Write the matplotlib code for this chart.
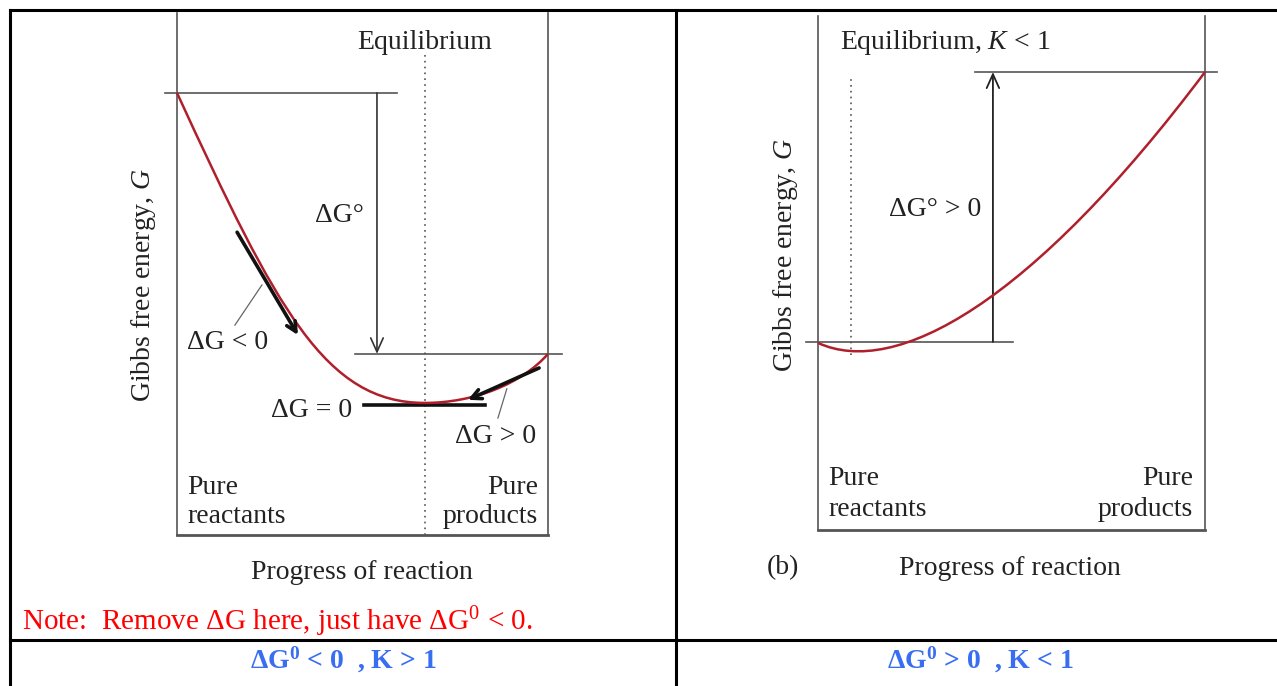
import matplotlib
matplotlib.use("Agg")
import matplotlib.pyplot as plt
from matplotlib.lines import Line2D
from matplotlib.path import Path
from matplotlib.patches import PathPatch

plt.rcParams['font.family'] = ['Liberation Serif', 'DejaVu Serif']
plt.rcParams['mathtext.fontset'] = 'custom'
plt.rcParams['mathtext.rm'] = 'Liberation Serif'
plt.rcParams['mathtext.it'] = 'Liberation Serif:italic'
plt.rcParams['mathtext.bf'] = 'Liberation Serif:bold'

# ---------------- data (progress 0..1, G in arbitrary units 0..100) -------------
# Panel (a): K > 1  -- curve as cubic Bezier control points (start, c1, c2, end, c1, c2, end)
a_curve_progress = [0.0, 0.27, 0.40, 0.668, 0.80, 0.93, 1.0]
a_curve_G = [84.7, 43.0, 25.3, 25.3, 25.3, 29.0, 34.7]
a_G_reactants = 84.7
a_G_products = 34.7
a_equilibrium = 0.668
a_dG0_x = 0.539
a_tangent_neg = [(0.162, 58.0), (0.326, 38.3)]   # tail, head
a_tangent_pos = [(0.976, 32.0), (0.784, 25.9)]   # tail, head
a_zero_line = [(0.504, 24.9), (0.830, 24.9)]
a_leader_neg = [(0.229, 47.9), (0.156, 40.2)]
a_leader_pos = [(0.889, 28.0), (0.865, 22.4)]

# Panel (b): K < 1  -- one cubic Bezier (start, c1, c2, end)
b_curve_progress = [0.0, 0.20, 0.55, 1.0]
b_curve_G = [36.4, 29.5, 44.0, 89.1]
b_G_reactants = 36.6
b_G_products = 89.1
b_equilibrium = 0.085
b_dG0_x = 0.452

# Text
ylabel_text = "Gibbs free energy, $G$"
xlabel_text = "Progress of reaction"
note_text = "Note:  Remove \u0394G here, just have \u0394G$^{0}$ < 0."
caption_a = "\u0394G$^{\\mathbf{0}}$ < 0  , K > 1"
caption_b = "\u0394G$^{\\mathbf{0}}$ > 0  , K < 1"

# ---------------- styling -------------
W, H = 1277, 686
fig = plt.figure(figsize=(W / 100, H / 100), dpi=100)
AX_COLOR = '#555555'
CURVE = '#b0202c'
TXT = '#222222'
FS = 20

def frame(ax):
    ax.set_xlim(0, 1)
    ax.set_ylim(0, 100)
    ax.set_xticks([])
    ax.set_yticks([])
    ax.spines['top'].set_visible(False)
    for s in ['left', 'right']:
        ax.spines[s].set_color(AX_COLOR)
        ax.spines[s].set_linewidth(1.2)
    ax.spines['bottom'].set_color(AX_COLOR)
    ax.spines['bottom'].set_linewidth(2.0)
    ax.patch.set_alpha(0)

def arrow(ax, tail, head, lw, color, hl=0.7, hw=0.35):
    ax.annotate('', xy=head, xytext=tail,
                arrowprops=dict(arrowstyle=f'->,head_length={hl},head_width={hw}',
                                lw=lw, color=color, shrinkA=0, shrinkB=0),
                annotation_clip=False)

def bezier(ax, xs, ys):
    verts = list(zip(xs, ys))
    codes = [Path.MOVETO] + [Path.CURVE4] * (len(verts) - 1)
    ax.add_patch(PathPatch(Path(verts, codes), facecolor='none', edgecolor=CURVE,
                           lw=1.8, zorder=3, clip_on=False))

# ---------------- panel (a) -------------
axa = fig.add_axes([177 / W, 1 - 535 / H, 371 / W, 522 / H])
frame(axa)
axa.plot([-0.032, 0.593], [a_G_reactants, a_G_reactants], color=AX_COLOR, lw=1.2, clip_on=False)
axa.plot([0.480, 1.038], [a_G_products, a_G_products], color=AX_COLOR, lw=1.2, clip_on=False)
axa.plot([a_equilibrium, a_equilibrium], [0, 92], color=AX_COLOR, lw=1.2, ls=(0, (1, 2.5)))
arrow(axa, (a_dG0_x, a_G_reactants), (a_dG0_x, a_G_products), 1.2, '#333333', 1.0, 0.45)
bezier(axa, a_curve_progress, a_curve_G)
arrow(axa, a_tangent_neg[0], a_tangent_neg[1], 2.6, '#111111', 0.7, 0.35)
arrow(axa, a_tangent_pos[0], a_tangent_pos[1], 2.6, '#111111', 0.7, 0.35)
axa.plot([p[0] for p in a_zero_line], [p[1] for p in a_zero_line], color='#111111', lw=2.6, zorder=2)
axa.plot([p[0] for p in a_leader_neg], [p[1] for p in a_leader_neg], color='#666666', lw=0.9)
axa.plot([p[0] for p in a_leader_pos], [p[1] for p in a_leader_pos], color='#666666', lw=0.9)

axa.text(a_equilibrium, 94.4, "Equilibrium", ha='center', va='center', fontsize=FS, color=TXT)
axa.text(0.439, 61.3, "\u0394G\u00b0", ha='center', va='center', fontsize=FS, color=TXT)
axa.text(0.137, 36.8, "\u0394G < 0", ha='center', va='center', fontsize=FS, color=TXT)
axa.text(0.472, 23.9, "\u0394G = 0", ha='right', va='center', fontsize=FS, color=TXT)
axa.text(0.860, 18.8, "\u0394G > 0", ha='center', va='center', fontsize=FS, color=TXT)
axa.text(0.027, 7.85, "Pure", ha='left', va='baseline', fontsize=FS, color=TXT)
axa.text(0.027, 2.3, "reactants", ha='left', va='baseline', fontsize=FS, color=TXT)
axa.text(0.973, 7.85, "Pure", ha='right', va='baseline', fontsize=FS, color=TXT)
axa.text(0.973, 2.3, "products", ha='right', va='baseline', fontsize=FS, color=TXT)
axa.text(0.499, -7.1, xlabel_text, ha='center', va='center', fontsize=FS, color=TXT, clip_on=False)
axa.text(-0.0916, 47.9, ylabel_text, ha='center', va='center', rotation=90, fontsize=FS, color=TXT)

# ---------------- panel (b) -------------
axb = fig.add_axes([818 / W, 1 - 530 / H, 387 / W, 514 / H])
frame(axb)
axb.plot([0.406, 1.031], [b_G_products, b_G_products], color=AX_COLOR, lw=1.2, clip_on=False)
axb.plot([-0.031, 0.504], [b_G_reactants, b_G_reactants], color=AX_COLOR, lw=1.2, clip_on=False)
axb.plot([b_equilibrium, b_equilibrium], [34.0, 87.9], color=AX_COLOR, lw=1.2, ls=(0, (1, 2.5)))
arrow(axb, (b_dG0_x, b_G_reactants), (b_dG0_x, b_G_products), 1.3, '#222222', 1.0, 0.45)
bezier(axb, b_curve_progress, b_curve_G)

axb.text(0.057, 94.9, "Equilibrium, $K$ < 1", ha='left', va='center', fontsize=FS, color=TXT)
axb.text(0.302, 62.3, "\u0394G\u00b0 > 0", ha='center', va='center', fontsize=FS, color=TXT)
axb.text(0.026, 8.75, "Pure", ha='left', va='baseline', fontsize=FS, color=TXT)
axb.text(0.026, 2.7, "reactants", ha='left', va='baseline', fontsize=FS, color=TXT)
axb.text(0.969, 8.75, "Pure", ha='right', va='baseline', fontsize=FS, color=TXT)
axb.text(0.969, 2.7, "products", ha='right', va='baseline', fontsize=FS, color=TXT)
axb.text(0.496, -7.4, xlabel_text, ha='center', va='center', fontsize=FS, color=TXT, clip_on=False)
axb.text(-0.090, -7.4, "(b)", ha='center', va='center', fontsize=FS, color=TXT, clip_on=False)
axb.text(-0.085, 53.5, ylabel_text, ha='center', va='center', rotation=90, fontsize=FS, color=TXT)

# ---------------- table frame and captions -------------
x0, xd = 10 / W, 676 / W
yt, yr = 1 - 10 / H, 1 - 640 / H
for xs, ys in [([x0, 1], [yt, yt]), ([x0, 1], [yr, yr]),
               ([x0, x0], [0, yt]), ([xd, xd], [0, yt])]:
    fig.add_artist(Line2D(xs, ys, color='black', lw=2.2, transform=fig.transFigure))

fig.text(22 / W, 1 - 622 / H, note_text, color='#ff0000', fontsize=21, ha='left', va='center')
fig.text(343 / W, 1 - 660 / H, caption_a, color='#3a6ef2', fontsize=20,
         fontweight='bold', ha='center', va='center')
fig.text(980 / W, 1 - 660 / H, caption_b, color='#3a6ef2', fontsize=20,
         fontweight='bold', ha='center', va='center')

fig.savefig("out.png", dpi=100, facecolor='white')
